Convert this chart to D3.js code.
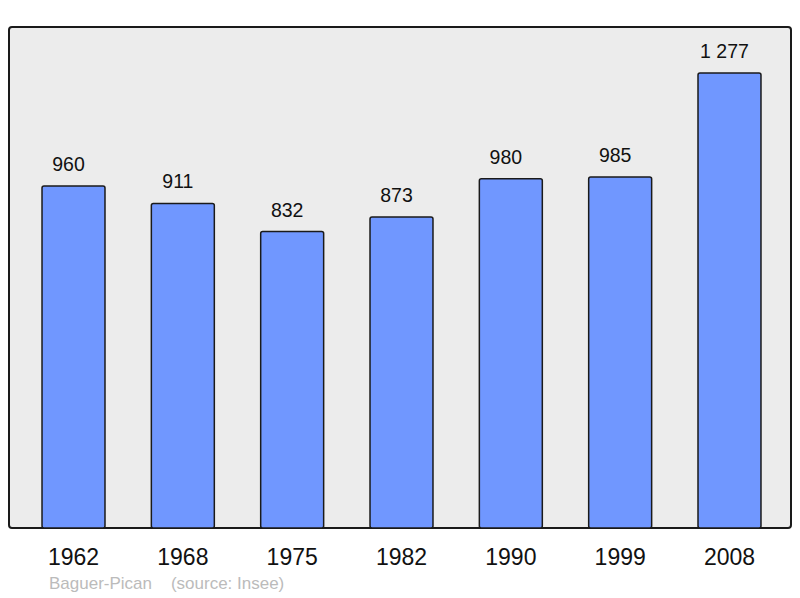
<!DOCTYPE html>
<html>
  <head>
    <script src="https://d3js.org/d3.v7.min.js"></script>
    <meta charset="utf-8">
    <title>Baguer-Pican population</title>
    <style>
      body { margin: 0; background: #fff; }
      svg { display: block; }
      text { font-family: "Liberation Sans", Arial, sans-serif; }
    </style>
  </head>
  <body>
    <script>
      // Population data (Insee)
      const years = ["1962", "1968", "1975", "1982", "1990", "1999", "2008"];
      const population = [960, 911, 832, 873, 980, 985, 1277];
      const valueLabels = ["960", "911", "832", "873", "980", "985", "1 277"];

      const width = 800, height = 598;
      const panel = { left: 9, top: 27, right: 791, bottom: 528 };

      const svg = d3.select("body")
        .append("svg")
        .attr("width", width)
        .attr("height", height);

      // Scales
      const x = d3.scaleBand()
        .domain(years)
        .range([panel.left, 794])
        .paddingInner(0.424)
        .paddingOuter(0.302);

      const y = d3.scaleLinear()
        .domain([0, 1406])
        .range([panel.bottom, panel.top]);

      // Background panel
      svg.append("rect")
        .attr("x", panel.left)
        .attr("y", panel.top)
        .attr("width", panel.right - panel.left)
        .attr("height", panel.bottom - panel.top)
        .attr("rx", 3)
        .attr("fill", "#ececec")
        .attr("stroke", "#1a1a1a")
        .attr("stroke-width", 2);

      // Bars
      svg.selectAll("rect.bar")
        .data(population)
        .enter()
        .append("rect")
        .attr("class", "bar")
        .attr("x", (d, i) => x(years[i]))
        .attr("y", d => y(d))
        .attr("width", x.bandwidth())
        .attr("height", d => y(0) - y(d))
        .attr("rx", 2)
        .attr("fill", "#7097ff")
        .attr("stroke", "#1a1a1a")
        .attr("stroke-width", 1.5);

      // Value labels above bars (sit slightly left of bar centre, as in the original)
      svg.selectAll("text.value")
        .data(population)
        .enter()
        .append("text")
        .attr("class", "value")
        .text((d, i) => valueLabels[i])
        .attr("x", (d, i) => x(years[i]) + x.bandwidth() / 2 - 5)
        .attr("y", d => y(d) - 15)
        .attr("font-size", "19.5px")
        .attr("text-anchor", "middle")
        .attr("fill", "#111");

      // Year labels
      const xAxis = d3.axisBottom(x).tickSize(0).tickPadding(0);
      const gx = svg.append("g")
        .attr("transform", `translate(0,${panel.bottom})`)
        .call(xAxis);
      gx.select(".domain").remove();
      gx.selectAll("text")
        .attr("dy", null)
        .attr("y", 37)
        .attr("font-size", "23px")
        .attr("font-family", "Liberation Sans, Arial, sans-serif")
        .attr("fill", "#111");

      // Source line
      svg.append("text")
        .attr("x", 49)
        .attr("y", 589)
        .attr("font-size", "17px")
        .attr("fill", "#bbbbbb")
        .attr("xml:space", "preserve")
        .text("Baguer-Pican    (source: Insee)");
    </script>
  </body>
</html>
